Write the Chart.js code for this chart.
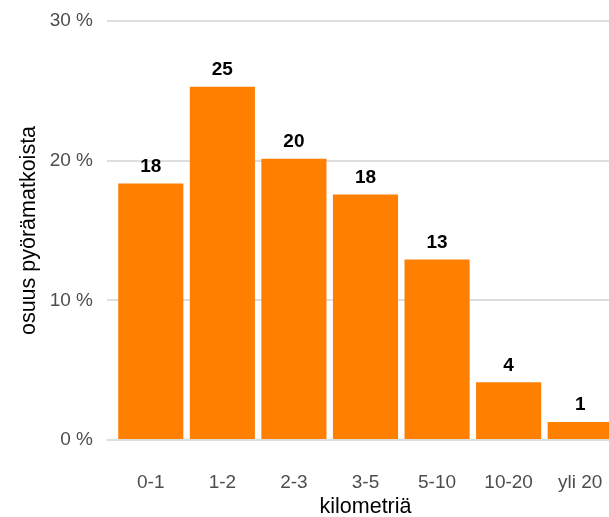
<!DOCTYPE html>
<html>
<head>
<meta charset="utf-8">
<script src="https://cdn.jsdelivr.net/npm/chart.js@4/dist/chart.umd.min.js"></script>
<style>
  html, body { margin: 0; padding: 0; background: #fff; overflow: hidden; }
  #wrap { width: 609px; height: 517px; overflow: hidden; }
  canvas { display: block; }
</style>
</head>
<body>
<div id="wrap"><canvas id="c" width="616" height="517"></canvas></div>
<script>
// Matkan pituusluokat (km) ja niiden osuus pyörämatkoista (%)
const categories = ['0-1', '1-2', '2-3', '3-5', '5-10', '10-20', 'yli 20'];
const shares = [18.36, 25.29, 20.14, 17.57, 12.93, 4.14, 1.29];
const yTicks = [0, 10, 20, 30];

const FONT = "'Liberation Sans', Arial, sans-serif";

// Pylväiden yläpuolelle pyöristetyt arvot
const valueLabels = {
  id: 'valueLabels',
  afterDatasetsDraw(chart) {
    const ctx = chart.ctx;
    const meta = chart.getDatasetMeta(0);
    ctx.save();
    ctx.font = 'bold 19px ' + FONT;
    ctx.fillStyle = '#000';
    ctx.textAlign = 'center';
    ctx.textBaseline = 'alphabetic';
    meta.data.forEach((bar, i) => {
      ctx.fillText(String(Math.round(shares[i])), bar.x, bar.y - 11.5);
    });
    ctx.restore();
  }
};

new Chart(document.getElementById('c'), {
  type: 'bar',
  data: {
    labels: categories,
    datasets: [{
      data: shares,
      backgroundColor: '#FF7F00',
      borderWidth: 0,
      categoryPercentage: 1,
      barPercentage: 0.91
    }]
  },
  options: {
    responsive: false,
    animation: false,
    layout: { padding: { top: 21, right: 0, bottom: 0, left: 0 } },
    plugins: { legend: { display: false }, tooltip: { enabled: false } },
    scales: {
      x: {
        grid: { display: false, drawTicks: true, tickLength: 28 },
        border: { display: false },
        ticks: { color: '#4D4D4D', font: { family: FONT, size: 19 }, padding: 3, maxRotation: 0, autoSkip: false },
        title: {
          display: true, text: 'kilometriä', color: '#000',
          font: { family: FONT, size: 21.5, lineHeight: 0.9 },
          padding: { top: 0, bottom: 0 }
        },
        afterFit(s) { s.height = 77; s.paddingLeft = 0; s.paddingRight = 0; }
      },
      y: {
        min: 0, max: 30,
        afterBuildTicks(s) { s.ticks = yTicks.map(v => ({ value: v })); },
        grid: { color: '#DEDEDE', lineWidth: 2, drawTicks: true, tickLength: 8 },
        border: { display: false },
        ticks: {
          color: '#4D4D4D', font: { family: FONT, size: 19 }, padding: 14,
          callback: v => v + ' %'
        },
        title: {
          display: true, text: 'osuus pyörämatkoista', color: '#000',
          font: { family: FONT, size: 21.5, lineHeight: 1 },
          padding: { top: 18, bottom: 0 }
        },
        afterFit(s) { s.width = 115; s.paddingTop = 0; s.paddingBottom = 0; }
      }
    }
  },
  plugins: [valueLabels]
});
</script>
</body>
</html>
